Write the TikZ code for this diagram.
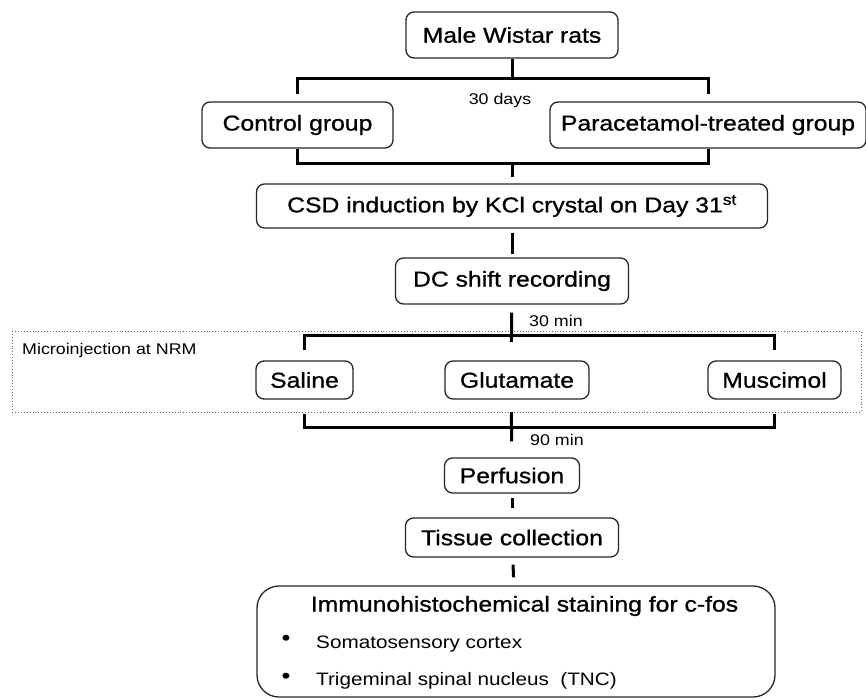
\documentclass[tikz,border=0pt]{standalone}
\usepackage{fontspec}
\setmainfont{Liberation Sans}[FakeStretch=1.15]
\newfontfamily\boxfont{Liberation Sans}[FakeStretch=1.15, FakeBold=0.9]

\tikzset{
  box/.style={draw=black!85, line width=1.3pt, rounded corners=8pt, inner sep=0pt,
    font=\boxfont\fontsize{21.5}{24}\selectfont},
  link/.style={line width=3pt},
  small/.style={inner sep=0pt, font=\fontsize{15.5}{18}\selectfont},
  item/.style={inner sep=0pt, anchor=west, font=\fontsize{18}{21}\selectfont},
}

\begin{document}
\begin{tikzpicture}[x=1pt, y=-1pt, node distance=60pt]
\useasboundingbox (0,0) rectangle (866,698);

% microinjection frame
\draw[black!60, line width=0.9pt, dotted] (12,331) rectangle (861,412);
\node (nrm) [small, anchor=west] at (22,350) {Microinjection at NRM};

\node (male) [box, minimum width=212pt, minimum height=46pt] at (512,35) {Male Wistar rats};
\node (ctrl) [box, minimum width=191pt, minimum height=46pt] at (297.5,125) {Control group};
\node (para) [box, minimum width=316pt, minimum height=46pt] at (708,125) {Paracetamol-treated group};
\node (csd) [box, minimum width=511pt, minimum height=44pt, below of=male, node distance=171pt]
  {CSD induction by KCl crystal on Day 31\textsuperscript{st}};
\node (dc) [box, minimum width=233pt, minimum height=46pt, below of=csd, node distance=75pt] {DC shift recording};

\node (saline) [box, minimum width=97pt, minimum height=38pt] at (304.5,380) {Saline};
\node (glu) [box, minimum width=144pt, minimum height=38pt, right of=saline, node distance=212.5pt] {Glutamate};
\node (mus) [box, minimum width=133pt, minimum height=38pt, right of=glu, node distance=257.5pt] {Muscimol};

\node (perf) [box, minimum width=135pt, minimum height=35pt, below of=dc, node distance=194.5pt] {Perfusion};
\node (tissue) [box, minimum width=213pt, minimum height=39pt, below of=perf, node distance=62pt] {Tissue collection};
\node (ihc) [box, rounded corners=22pt, minimum width=518pt, minimum height=111pt] at (516,641.5) {};

% text inside the staining box
\node (ihctitle) [inner sep=0pt, font=\boxfont\fontsize{21.5}{24}\selectfont] at (524.5,606) {Immunohistochemical staining for c-fos};
\node (dot1) [inner sep=0pt, font=\fontsize{22}{24}\selectfont] at (286,640) {\textbullet};
\node (dot2) [inner sep=0pt, font=\fontsize{22}{24}\selectfont] at (286,678) {\textbullet};
\node (cortex) [item] at (316,644) {Somatosensory cortex};
\node (tnc) [item] at (316,681) {Trigeminal spinal nucleus\ \ (TNC)};

% labels
\node (days) [small] at (500,100) {30 days};
\node (min30) [small, anchor=west] at (529,321) {30 min};
\node (min90) [small, anchor=west] at (530,440) {90 min};

% brackets and connectors
\coordinate (split) at (512,79);
\coordinate (merge) at (512,163);
\coordinate (inj) at (511.5,335);
\coordinate (join) at (511.5,427);

\draw[link] (male) -- (split);
\draw[link, shorten <=7pt, shorten >=7pt] (ctrl.north) -- (ctrl.north |- split) -- (para.north |- split) -- (para.north);
\draw[link] (ctrl.south) -- (ctrl.south |- merge) -- (para.south |- merge) -- (para.south);
\draw[link, shorten >=6pt] (merge) -- (csd);
\draw[link, shorten <=4pt, shorten >=3pt] (csd) -- (dc);
\draw[link, shorten <=8pt, shorten >=-7pt] (dc) -- (inj);
\draw[link, shorten <=10pt, shorten >=10pt] (saline.north) -- (saline.north |- inj) -- (mus.north |- inj) -- (mus.north);
\draw[link, shorten <=14pt, shorten >=14pt] (saline.south) -- (saline.south |- join) -- (mus.south |- join) -- (mus.south);
\draw[link, shorten <=-15pt, shorten >=16pt] (join) -- (perf);
\draw[link, shorten <=4pt, shorten >=9pt] (perf) -- (tissue);
\draw[link, shorten <=7pt, shorten >=8pt] (tissue) -- (ihc);
\end{tikzpicture}
\end{document}
